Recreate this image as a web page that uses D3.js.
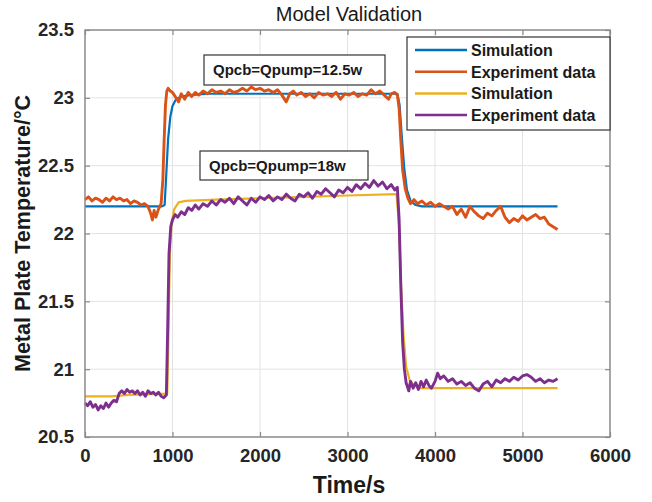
<!DOCTYPE html>
<html>
<head>
<meta charset="utf-8">
<script src="https://d3js.org/d3.v7.min.js"></script>
<style>
  body { margin: 0; background: #fff; }
  text { font-family: "Liberation Sans", Arial, sans-serif; }
</style>
</head>
<body>
<script>
// ---- data ----
const xTicks = [0, 1000, 2000, 3000, 4000, 5000, 6000];
const yTicks = [20.5, 21, 21.5, 22, 22.5, 23, 23.5];

const seriesNames = ["Simulation", "Experiment data", "Simulation", "Experiment data"];
const seriesColors = ["#0072BD", "#D95319", "#EDB120", "#7E2F8E"];
const notes = ["Qpcb=Qpump=12.5w", "Qpcb=Qpump=18w"];

// Qpcb = Qpump = 12.5 W, simulation [time s, temperature C]
const sim125 = [
  [0, 22.2], [880, 22.2], [910, 22.21], [930, 22.45], [950, 22.7], [975, 22.86],
  [1000, 22.94], [1040, 22.99], [1100, 23.01], [1200, 23.02], [1400, 23.03],
  [2000, 23.03], [3000, 23.03], [3570, 23.03], [3595, 22.95], [3620, 22.72],
  [3650, 22.47], [3680, 22.32], [3720, 22.24], [3780, 22.21], [3850, 22.2], [5400, 22.2]
];

// Qpcb = Qpump = 12.5 W, experiment
const exp125 = [
  [0, 22.25], [40, 22.27], [80, 22.24], [120, 22.26], [160, 22.25], [200, 22.23],
  [240, 22.26], [280, 22.24], [320, 22.27], [360, 22.25], [400, 22.26], [440, 22.24],
  [480, 22.25], [520, 22.22], [560, 22.24], [600, 22.23], [640, 22.21], [680, 22.22],
  [720, 22.2], [750, 22.15], [770, 22.1], [790, 22.17], [810, 22.12], [840, 22.18],
  [870, 22.22], [890, 22.4], [905, 22.7], [920, 22.95], [935, 23.05], [950, 23.07],
  [975, 23.05], [1000, 23.04], [1040, 23.0], [1070, 22.97], [1100, 23.03], [1140, 22.99],
  [1180, 23.04], [1220, 23.01], [1260, 23.04], [1300, 23.02], [1350, 23.05], [1400, 23.03],
  [1450, 23.06], [1500, 23.04], [1550, 23.05], [1600, 23.03], [1650, 23.06], [1700, 23.04],
  [1750, 23.05], [1800, 23.07], [1850, 23.05], [1900, 23.08], [1950, 23.06], [2000, 23.07],
  [2050, 23.05], [2100, 23.06], [2150, 23.04], [2200, 23.06], [2250, 23.02], [2300, 22.97],
  [2340, 23.03], [2380, 23.05], [2420, 23.02], [2470, 23.04], [2520, 23.01], [2570, 23.03],
  [2620, 23.0], [2670, 23.04], [2720, 23.02], [2770, 23.03], [2820, 23.01], [2870, 23.04],
  [2920, 22.99], [2970, 23.03], [3020, 23.02], [3070, 23.04], [3120, 23.01], [3170, 23.03],
  [3220, 23.02], [3270, 23.06], [3320, 23.03], [3370, 23.05], [3420, 23.02], [3470, 22.99],
  [3500, 23.03], [3540, 23.04], [3570, 23.02], [3590, 22.92], [3610, 22.68], [3630, 22.47],
  [3660, 22.33], [3690, 22.26], [3720, 22.22], [3760, 22.25], [3800, 22.22], [3850, 22.24],
  [3900, 22.21], [3950, 22.23], [4000, 22.2], [4050, 22.22], [4100, 22.2], [4150, 22.18],
  [4200, 22.2], [4250, 22.14], [4300, 22.18], [4350, 22.12], [4400, 22.2], [4450, 22.16],
  [4500, 22.13], [4550, 22.11], [4600, 22.15], [4650, 22.13], [4700, 22.17], [4750, 22.2],
  [4800, 22.12], [4850, 22.08], [4900, 22.11], [4950, 22.09], [5000, 22.13], [5050, 22.1],
  [5100, 22.12], [5150, 22.14], [5200, 22.11], [5250, 22.12], [5300, 22.07], [5350, 22.05],
  [5400, 22.03]
];

// Qpcb = Qpump = 18 W, simulation
const sim18 = [
  [0, 20.8], [300, 20.8], [500, 20.81], [940, 20.82], [955, 21.3], [970, 21.85],
  [990, 22.08], [1020, 22.18], [1070, 22.23], [1150, 22.24], [1500, 22.25], [2000, 22.26],
  [2500, 22.27], [3000, 22.28], [3560, 22.29], [3590, 22.05], [3610, 21.65], [3640, 21.25],
  [3670, 21.02], [3710, 20.92], [3760, 20.88], [3850, 20.86], [5400, 20.86]
];

// Qpcb = Qpump = 18 W, experiment
const exp18 = [
  [0, 20.75], [30, 20.73], [60, 20.76], [90, 20.72], [120, 20.74], [150, 20.7],
  [180, 20.73], [210, 20.71], [240, 20.75], [270, 20.72], [300, 20.75], [330, 20.77],
  [360, 20.76], [390, 20.82], [420, 20.84], [450, 20.82], [480, 20.85], [510, 20.83],
  [540, 20.84], [570, 20.82], [600, 20.84], [630, 20.81], [660, 20.83], [690, 20.8],
  [720, 20.84], [750, 20.82], [780, 20.83], [810, 20.81], [840, 20.83], [870, 20.8],
  [900, 20.79], [930, 20.81], [945, 21.3], [960, 21.85], [980, 22.05], [1000, 22.1],
  [1030, 22.14], [1060, 22.12], [1100, 22.16], [1140, 22.14], [1180, 22.19], [1220, 22.17],
  [1260, 22.21], [1300, 22.18], [1350, 22.22], [1400, 22.2], [1450, 22.24], [1500, 22.21],
  [1550, 22.25], [1600, 22.23], [1650, 22.26], [1700, 22.22], [1750, 22.27], [1800, 22.24],
  [1850, 22.21], [1900, 22.26], [1950, 22.23], [2000, 22.27], [2050, 22.25], [2100, 22.28],
  [2150, 22.24], [2200, 22.27], [2250, 22.25], [2300, 22.29], [2350, 22.26], [2400, 22.24],
  [2450, 22.29], [2500, 22.27], [2550, 22.3], [2600, 22.26], [2650, 22.31], [2700, 22.29],
  [2750, 22.33], [2800, 22.3], [2850, 22.27], [2900, 22.32], [2950, 22.3], [3000, 22.34],
  [3050, 22.31], [3100, 22.36], [3150, 22.33], [3200, 22.37], [3250, 22.34], [3300, 22.39],
  [3350, 22.35], [3400, 22.38], [3450, 22.33], [3500, 22.36], [3540, 22.32], [3570, 22.34],
  [3590, 22.1], [3610, 21.6], [3630, 21.2], [3650, 21.0], [3670, 20.9], [3700, 20.84],
  [3720, 20.91], [3750, 20.86], [3780, 20.9], [3810, 20.85], [3840, 20.91], [3870, 20.87],
  [3900, 20.92], [3930, 20.88], [3960, 20.86], [4000, 20.91], [4030, 20.97], [4060, 20.93],
  [4100, 20.95], [4150, 20.91], [4200, 20.93], [4250, 20.89], [4300, 20.91], [4350, 20.88],
  [4400, 20.9], [4450, 20.86], [4500, 20.84], [4550, 20.89], [4600, 20.91], [4650, 20.87],
  [4700, 20.92], [4750, 20.9], [4800, 20.93], [4850, 20.91], [4900, 20.94], [4950, 20.92],
  [5000, 20.95], [5050, 20.96], [5100, 20.94], [5150, 20.91], [5200, 20.93], [5250, 20.9],
  [5300, 20.92], [5350, 20.91], [5400, 20.93]
];

// ---- layout ----
let width = 652,
    height = 502;
let plot = {left: 85, right: 610, top: 30, bottom: 437};

let svg = d3.select("body").append("svg")
    .attr("width", width)
    .attr("height", height);

let x = d3.scaleLinear().domain([0, 6000]).range([plot.left, plot.right]);
let y = d3.scaleLinear().domain([20.5, 23.5]).range([plot.bottom, plot.top]);

// grid
let grid = svg.append("g").attr("stroke", "#e3e3e3").attr("stroke-width", 1);
grid.selectAll(".gx").data(xTicks.slice(1, -1)).join("line")
    .attr("x1", d => x(d)).attr("x2", d => x(d))
    .attr("y1", plot.top).attr("y2", plot.bottom);
grid.selectAll(".gy").data(yTicks.slice(1, -1)).join("line")
    .attr("x1", plot.left).attr("x2", plot.right)
    .attr("y1", d => y(d)).attr("y2", d => y(d));

// axes, ticks inward like matlab
let fmt = d => String(d);
let axisColor = "#8a8a8a";
function styleAxis(g) {
    g.select(".domain").remove();
    g.selectAll(".tick line").attr("stroke", axisColor).attr("stroke-width", 1.2);
    g.selectAll(".tick text")
        .attr("fill", "#262626")
        .style("font-size", "18.5px")
        .style("font-weight", "bold");
}
svg.append("g").attr("transform", `translate(0,${plot.bottom})`)
    .call(d3.axisBottom(x).tickValues(xTicks).tickFormat(fmt).tickSizeInner(-5).tickPadding(12))
    .call(styleAxis);
svg.append("g").attr("transform", `translate(0,${plot.top})`)
    .call(d3.axisTop(x).tickValues(xTicks).tickFormat("").tickSizeInner(-5))
    .call(styleAxis);
svg.append("g").attr("transform", `translate(${plot.left},0)`)
    .call(d3.axisLeft(y).tickValues(yTicks).tickFormat(fmt).tickSizeInner(-5).tickPadding(11))
    .call(styleAxis);
svg.append("g").attr("transform", `translate(${plot.right},0)`)
    .call(d3.axisRight(y).tickValues(yTicks).tickFormat("").tickSizeInner(-5))
    .call(styleAxis);

// curves
let line = d3.line().x(d => x(d[0])).y(d => y(d[1]));
let curves = [sim125, exp125, sim18, exp18];
let widths = [2.2, 2.9, 2.2, 2.9];
svg.append("g").selectAll("path").data(curves).join("path")
    .attr("d", line)
    .attr("fill", "none")
    .attr("stroke", (d, i) => seriesColors[i])
    .attr("stroke-width", (d, i) => widths[i])
    .attr("stroke-linejoin", "round");

// box
svg.append("rect")
    .attr("x", plot.left).attr("y", plot.top)
    .attr("width", plot.right - plot.left).attr("height", plot.bottom - plot.top)
    .attr("fill", "none").attr("stroke", axisColor).attr("stroke-width", 1.5);

// annotation boxes
let noteBoxes = [
    {x: 204, y: 55, w: 181, h: 30},
    {x: 200, y: 151, w: 168, h: 29}
];
let ann = svg.append("g").selectAll("g").data(notes).join("g");
ann.append("rect")
    .attr("x", (d, i) => noteBoxes[i].x).attr("y", (d, i) => noteBoxes[i].y)
    .attr("width", (d, i) => noteBoxes[i].w).attr("height", (d, i) => noteBoxes[i].h)
    .attr("fill", "#fff").attr("stroke", "#333").attr("stroke-width", 1.2);
ann.append("text")
    .attr("x", (d, i) => noteBoxes[i].x + 9)
    .attr("y", (d, i) => noteBoxes[i].y + noteBoxes[i].h / 2 + 5)
    .style("font-size", "15px").style("font-weight", "bold")
    .attr("fill", "#1a1a1a")
    .text(d => d);

// legend
let lg = svg.append("g");
lg.append("rect")
    .attr("x", 407).attr("y", 37).attr("width", 203).attr("height", 93)
    .attr("fill", "#fff").attr("stroke", "#333").attr("stroke-width", 1.2);
let rows = lg.selectAll("g").data(seriesNames).join("g")
    .attr("transform", (d, i) => `translate(0,${50 + i * 21.7})`);
rows.append("line")
    .attr("x1", 415).attr("x2", 467)
    .attr("stroke", (d, i) => seriesColors[i]).attr("stroke-width", 2.5);
rows.append("text")
    .attr("x", 471).attr("y", 6)
    .style("font-size", "16px").style("font-weight", "bold")
    .attr("fill", "#1a1a1a")
    .text(d => d);

// titles
svg.append("text")
    .attr("x", 349).attr("y", 21)
    .attr("text-anchor", "middle")
    .style("font-size", "20px")
    .attr("fill", "#1a1a1a")
    .text("Model Validation");
svg.append("text")
    .attr("x", 349).attr("y", 493)
    .attr("text-anchor", "middle")
    .style("font-size", "23px").style("font-weight", "bold")
    .attr("fill", "#1a1a1a")
    .text("Time/s");
svg.append("text")
    .attr("transform", `translate(30,${(plot.top + plot.bottom) / 2}) rotate(-90)`)
    .attr("text-anchor", "middle")
    .style("font-size", "21.5px").style("font-weight", "bold")
    .attr("fill", "#1a1a1a")
    .text("Metal Plate Temperature/°C");
</script>
</body>
</html>
